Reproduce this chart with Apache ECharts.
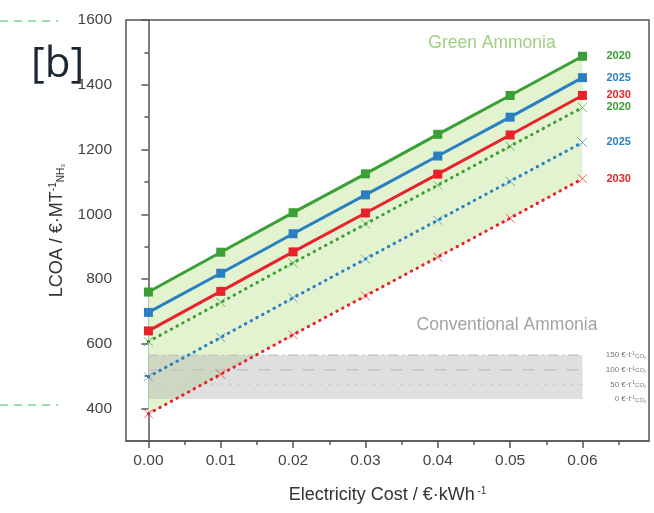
<!DOCTYPE html>
<html>
<head>
<meta charset="utf-8">
<script src="https://cdn.jsdelivr.net/npm/echarts@6/dist/echarts.min.js"></script>
<style>
html,body{margin:0;padding:0;background:#fff;}
#chart{width:654px;height:513px;}
</style>
</head>
<body>
<div id="chart"></div>
<script>
// ---- data ----
const electricityCost = [0, 0.01, 0.02, 0.03, 0.04, 0.05, 0.06];
const green2020 = [760, 883, 1005, 1125, 1247, 1367, 1488];
const green2025 = [697, 818, 940, 1060, 1180, 1300, 1422];
const green2030 = [640, 762, 884, 1004, 1124, 1245, 1367];
const alt2020 = [607, 728, 850, 970, 1090, 1210, 1330];
const alt2025 = [498, 620, 742, 862, 982, 1102, 1222];
const alt2030 = [384, 506, 628, 748, 868, 988, 1110];
const convX = [0, 0.06];
const convLevels = [430, 475, 520, 565];
const convTaxes = ['0', '50', '100', '150'];
const xMajorTicks = [0, 0.01, 0.02, 0.03, 0.04, 0.05, 0.06];
const xMinorTicks = [0.005, 0.015, 0.025, 0.035, 0.045, 0.055, 0.065];
const yMajorTicks = [400, 600, 800, 1000, 1200, 1400, 1600];
const yMinorTicks = [500, 700, 900, 1100, 1300, 1500];

const FONT = '"Liberation Sans", Arial, sans-serif';
const AXIS_COLOR = '#555';
const LABEL_COLOR = '#444';
const C_GREEN = '#3a9f35';
const C_BLUE = '#2a7fc0';
const C_RED = '#e8222a';

const pairs = (xs, ys) => xs.map((x, i) => [x, ys[i]]);
const crossSymbol = 'path://M0,0L10,10M10,0L0,10';

function solidSeries(name, values, color, year) {
  return {
    name, type: 'line', data: pairs(electricityCost, values), z: 10,
    symbol: 'rect', symbolSize: 9,
    lineStyle: { color, width: 3 },
    itemStyle: { color },
    endLabel: { show: true, formatter: year, color, fontWeight: 'bold', fontSize: 11, fontFamily: FONT, distance: 24 },
    animation: false
  };
}
function dottedSeries(name, values, color, year) {
  return {
    name, type: 'line', data: pairs(electricityCost, values), z: 9,
    symbol: crossSymbol, symbolSize: 9,
    lineStyle: { color, width: 3, type: [0.5, 6], cap: 'round' },
    itemStyle: { color: color, borderColor: color, borderWidth: 1, opacity: 0.7 },
    endLabel: { show: true, formatter: year, color, fontWeight: 'bold', fontSize: 11, fontFamily: FONT, distance: 24 },
    animation: false
  };
}

// band polygons built through the chart's coordinate system
function bandSeries(xsTop, ysTop, xsBot, ysBot, fill, z) {
  return {
    type: 'custom', silent: true, z, clip: true,
    data: [[xsTop[0], ysTop[0]]],
    renderItem: (params, api) => {
      const pts = [];
      xsTop.forEach((x, i) => pts.push(api.coord([x, ysTop[i]])));
      for (let i = xsBot.length - 1; i >= 0; i--) pts.push(api.coord([xsBot[i], ysBot[i]]));
      return { type: 'polygon', shape: { points: pts }, style: { fill } };
    },
    animation: false
  };
}

const convBase = convLevels[0];
const convTop = convLevels[convLevels.length - 1];

const convLineTypes = ['solid', [2, 7], [12, 10], [10, 4, 2, 4]];
const convLines = convLevels.map((lv, i) => ({
  type: 'line', data: convX.map(x => [x, lv]), z: 6, symbol: 'none', silent: true,
  lineStyle: { color: i === 0 ? 'rgba(0,0,0,0)' : '#c4c4c4', width: 1.5, type: convLineTypes[i] },
  endLabel: {
    show: true, align: 'right', distance: 64,
    formatter: '{a|' + convTaxes[i] + ' €·t}{s|-1}{b|CO₂}',
    rich: {
      a: { fontSize: 8, color: '#777', fontFamily: FONT },
      s: { fontSize: 5, color: '#777', fontFamily: FONT, verticalAlign: 'top' },
      b: { fontSize: 6, color: '#777', fontFamily: FONT, verticalAlign: 'bottom' }
    }
  },
  animation: false
}));

const option = {
  backgroundColor: '#fff',
  animation: false,
  grid: { left: 126, right: 5, top: 20, bottom: 72, show: true, borderColor: AXIS_COLOR, borderWidth: 1.5, backgroundColor: 'transparent' },
  xAxis: [
    {
      type: 'value', min: -0.0031, max: 0.0692,
      name: '{a|Electricity Cost / €·kWh}{s| -1}', nameLocation: 'middle', nameGap: 45,
      nameTextStyle: { rich: {
        a: { fontSize: 18, color: '#333', fontFamily: FONT },
        s: { fontSize: 10, color: '#333', fontFamily: FONT, verticalAlign: 'top' }
      } },
      axisLine: { show: true, lineStyle: { color: AXIS_COLOR, width: 1.5 } },
      axisTick: { show: true, inside: false, length: 7, customValues: xMajorTicks, lineStyle: { color: AXIS_COLOR, width: 1.5 } },
      axisLabel: { customValues: xMajorTicks, formatter: v => v.toFixed(2), fontSize: 15.5, color: LABEL_COLOR, fontFamily: FONT, margin: 12 },
      splitLine: { show: false }
    },
    {
      type: 'value', min: -0.0031, max: 0.0692, position: 'bottom',
      axisLine: { show: false },
      axisTick: { show: true, length: 4, customValues: xMinorTicks, lineStyle: { color: AXIS_COLOR, width: 1.5 } },
      axisLabel: { show: false }, splitLine: { show: false }
    }
  ],
  yAxis: [
    {
      type: 'value', min: 300, max: 1600,
      name: '{a|LCOA / €·MT}{s|-1}{b|NH₃}', nameLocation: 'middle', nameGap: 60, nameRotate: 90,
      nameTextStyle: { rich: {
        a: { fontSize: 18, color: '#333', fontFamily: FONT },
        s: { fontSize: 10, color: '#333', fontFamily: FONT, verticalAlign: 'top' },
        b: { fontSize: 10, color: '#333', fontFamily: FONT, verticalAlign: 'bottom' }
      } },
      axisLine: { show: true, lineStyle: { color: AXIS_COLOR, width: 1.5 } },
      axisTick: { show: true, length: 7, customValues: yMajorTicks, lineStyle: { color: AXIS_COLOR, width: 1.5 } },
      axisLabel: { customValues: yMajorTicks, formatter: v => String(v), fontSize: 15.5, color: LABEL_COLOR, fontFamily: FONT, margin: 14 },
      splitLine: { show: false }
    },
    {
      type: 'value', min: 300, max: 1600, position: 'left',
      axisLine: { show: false },
      axisTick: { show: true, length: 4, customValues: yMinorTicks, lineStyle: { color: AXIS_COLOR, width: 1.5 } },
      axisLabel: { show: false }, splitLine: { show: false }
    }
  ],
  graphic: [
    { type: 'text', left: 31, top: 44, style: { text: '[b]', font: '42px "Open Sans", "Liberation Sans", sans-serif', fill: '#1b2631' } },
    { type: 'line', shape: { x1: 0, y1: 21, x2: 58, y2: 21 }, style: { stroke: '#3cbf5a', lineWidth: 1, lineDash: [8, 6] } },
    { type: 'line', shape: { x1: 0, y1: 405, x2: 58, y2: 405 }, style: { stroke: '#3cbf5a', lineWidth: 1, lineDash: [8, 6] } },
    { type: 'text', x: 492, y: 43, z: 20, style: { text: 'Green Ammonia', font: '17.5px "Liberation Sans", Arial, sans-serif', fill: '#9fd07e', align: 'center', verticalAlign: 'middle' } },
    { type: 'text', x: 507, y: 325, z: 20, style: { text: 'Conventional Ammonia', font: '17.5px "Liberation Sans", Arial, sans-serif', fill: '#a3a3a3', align: 'center', verticalAlign: 'middle' } }
  ],
  series: [
    bandSeries(electricityCost, green2020, electricityCost, alt2030, '#e3f3d0', 1),
    bandSeries(convX, convX.map(() => convTop), convX, convX.map(() => convBase), 'rgba(165,165,165,0.36)', 2),
    ...convLines,
    solidSeries('2020', green2020, C_GREEN, '2020'),
    solidSeries('2025', green2025, C_BLUE, '2025'),
    solidSeries('2030', green2030, C_RED, '2030'),
    dottedSeries('2020 alt', alt2020, C_GREEN, '2020'),
    dottedSeries('2025 alt', alt2025, C_BLUE, '2025'),
    dottedSeries('2030 alt', alt2030, C_RED, '2030')
  ]
};

const chart = echarts.init(document.getElementById('chart'), null, { renderer: 'canvas' });
chart.setOption(option);
</script>
</body>
</html>
